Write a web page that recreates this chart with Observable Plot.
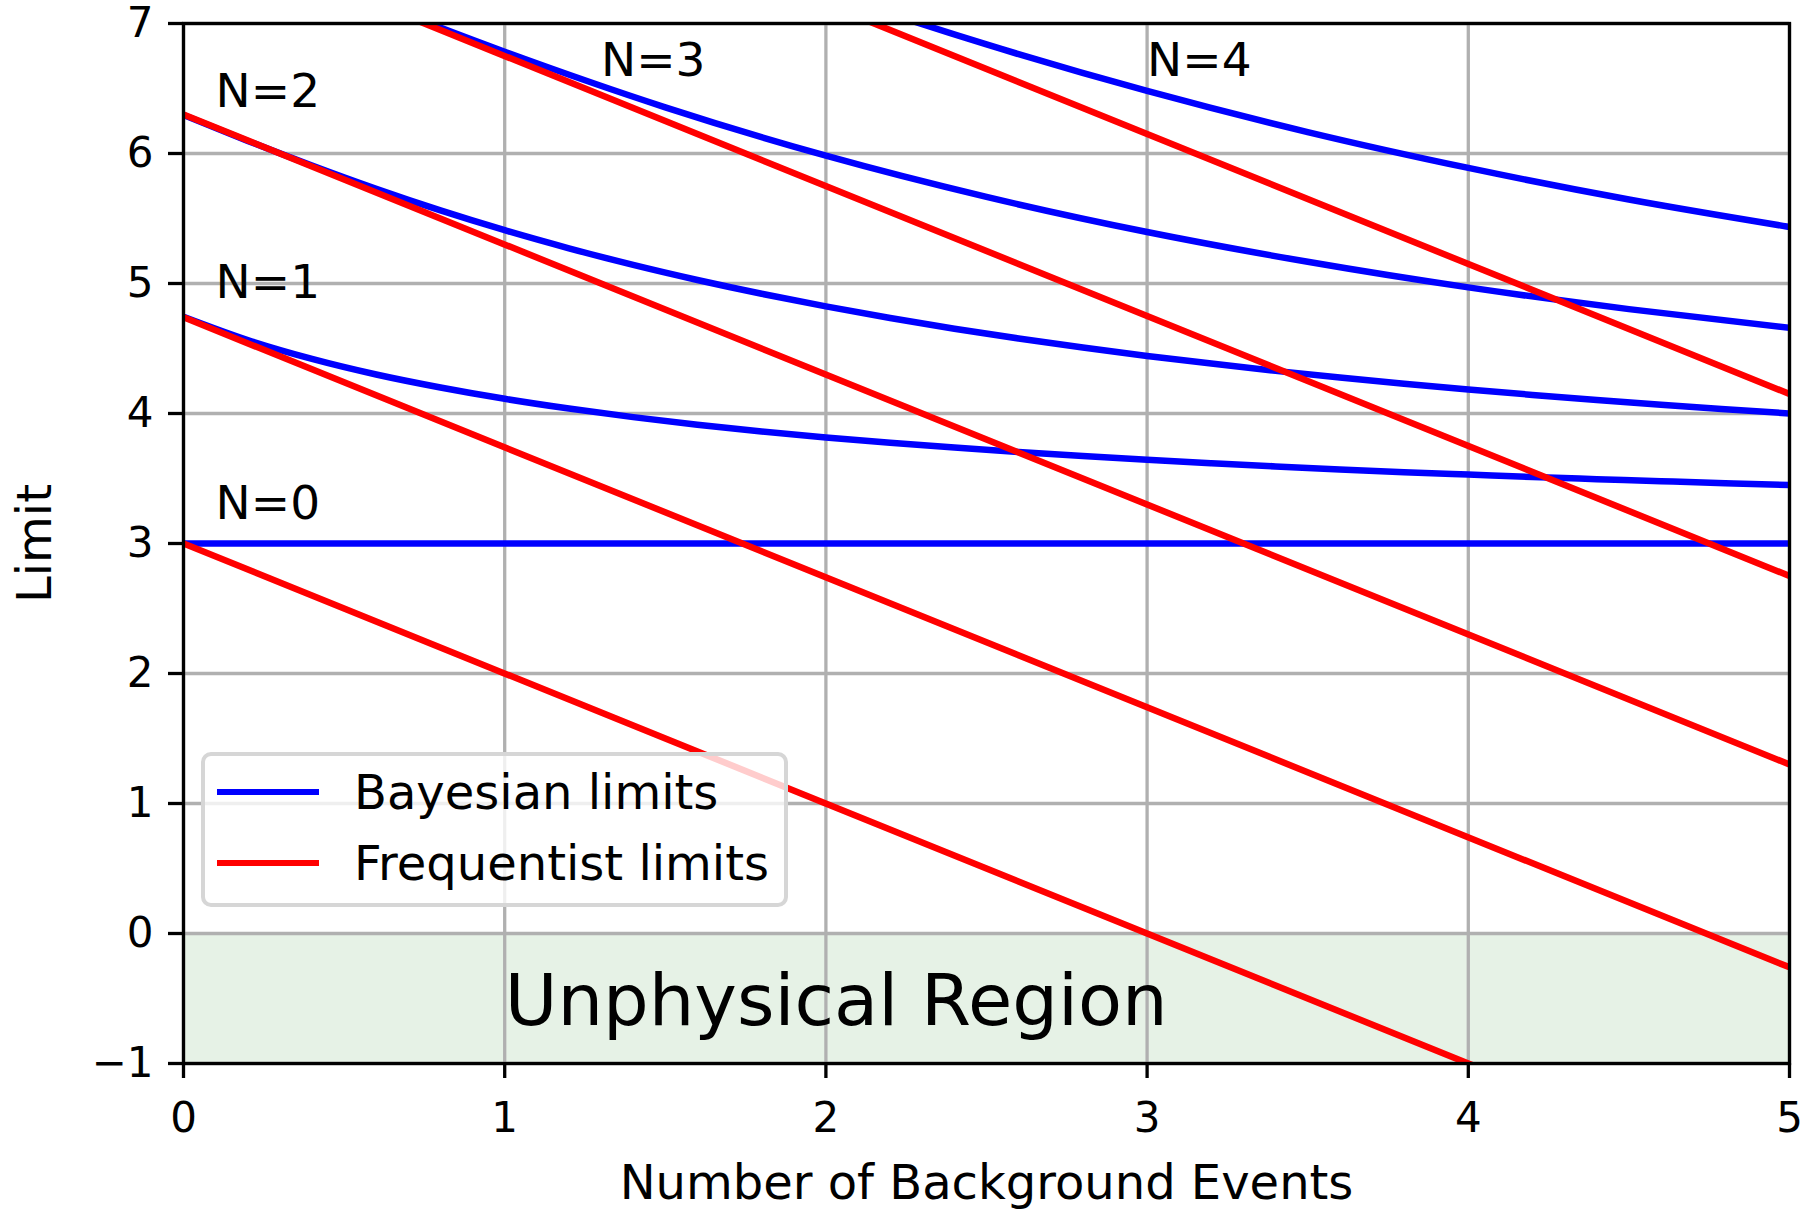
<!DOCTYPE html>
<html>
<head>
<meta charset="utf-8">
<script src="https://cdn.jsdelivr.net/npm/d3@7"></script>
<script src="https://cdn.jsdelivr.net/npm/@observablehq/plot@0.6"></script>
<style>
  html, body { margin: 0; padding: 0; background: #fff; }
  #wrap { position: relative; width: 1819px; height: 1210px; font-family: "DejaVu Sans", sans-serif; }
  #legend {
    position: absolute; left: 201px; top: 752px; width: 587px; height: 155px;
    box-sizing: border-box; border: 4px solid #d6d6d6; border-radius: 10px;
    background: rgba(255,255,255,0.8);
  }
  .lrow { position: absolute; left: 12px; height: 48px; display: flex; align-items: center; }
  .lswatch { width: 102px; height: 6.5px; }
  .ltext { margin-left: 35px; font-size: 48px; line-height: 48px; color: #000; white-space: nowrap; }
</style>
</head>
<body>
<div id="wrap"></div>
<script>
// ---- data ----
const bGridFine = [0, 0.2, 0.4, 0.6, 0.8, 1.0, 1.2, 1.4, 1.6, 1.8, 2.0, 2.2, 2.4, 2.6, 2.8, 3.0, 3.2, 3.4, 3.6, 3.8, 4.0, 4.2, 4.4, 4.6, 4.8, 5.0];
const bGridCoarse = [0, 0.5, 1.0, 1.5, 2.0, 2.5, 3.0, 3.5, 4.0, 4.5, 5.0];

const bayesN0 = [3.0, 3.0];
const bayesN0b = [0, 5];
const bayesN1 = [4.744, 4.565, 4.42, 4.30, 4.20, 4.113, 4.038, 3.972, 3.914, 3.862, 3.816, 3.775, 3.738, 3.704, 3.673, 3.644, 3.618, 3.593, 3.570, 3.549, 3.530, 3.511, 3.495, 3.479, 3.464, 3.45];
const bayesN2 = [6.296, 6.097, 5.907, 5.728, 5.562, 5.41, 5.271, 5.143, 5.027, 4.921, 4.824, 4.735, 4.652, 4.577, 4.507, 4.443, 4.384, 4.328, 4.277, 4.229, 4.185, 4.143, 4.104, 4.067, 4.033, 4.00];
const bayesN3 = [7.754, 7.256, 6.783, 6.355, 5.983, 5.666, 5.396, 5.167, 4.970, 4.803, 4.659];
const bayesN4 = [9.154, 8.653, 8.16, 7.683, 7.241, 6.839, 6.481, 6.165, 5.889, 5.646, 5.435];

const freqB = [0, 5];
const freqAt0 = [3.00, 4.74, 6.30, 7.75, 9.15];
const freqAt5 = [-2.00, -0.26, 1.30, 2.75, 4.15];

const nLabels = ["N=0", "N=1", "N=2", "N=3", "N=4"];
const nLabelB = [0.1, 0.1, 0.1, 1.3, 3.0];
const nLabelLimit = [3.19, 4.89, 6.36, 6.6, 6.6];

const regionText = "Unphysical Region";
const regionB = [0, 5];
const regionLimit = [-1, 0];
const regionTextB = 1.0;
const regionTextLimit = -0.7;

const xTicks = [0, 1, 2, 3, 4, 5];
const yTicks = [-1, 0, 1, 2, 3, 4, 5, 6, 7];
const xLabel = "Number of Background Events";
const yLabel = "Limit";
const legendLabels = ["Bayesian limits", "Frequentist limits"];

// ---- build tables ----
const bayesRows = [];
bayesN0.forEach((v, i) => bayesRows.push({b: bayesN0b[i], limit: v, N: 0}));
bayesN1.forEach((v, i) => bayesRows.push({b: bGridFine[i], limit: v, N: 1}));
bayesN2.forEach((v, i) => bayesRows.push({b: bGridFine[i], limit: v, N: 2}));
bayesN3.forEach((v, i) => bayesRows.push({b: bGridCoarse[i], limit: v, N: 3}));
bayesN4.forEach((v, i) => bayesRows.push({b: bGridCoarse[i], limit: v, N: 4}));

const freqRows = [];
freqAt0.forEach((v, n) => {
  freqRows.push({b: freqB[0], limit: v, N: n});
  freqRows.push({b: freqB[1], limit: freqAt5[n], N: n});
});

const labelRows = nLabels.map((t, i) => ({text: t, b: nLabelB[i], limit: nLabelLimit[i]}));
const region = [{x1: regionB[0], x2: regionB[1], y1: regionLimit[0], y2: regionLimit[1]}];

const font = "DejaVu Sans";
const intFmt = d3.format("d");

const chart = Plot.plot({
  width: 1819,
  height: 1210,
  marginLeft: 183,
  marginRight: 30,
  marginTop: 23,
  marginBottom: 147,
  style: {fontFamily: font, background: "white", color: "black"},
  x: {domain: [0, 5], label: null},
  y: {domain: [-1, 7], label: null},
  marks: [
    Plot.rect(region, {x1: "x1", x2: "x2", y1: "y1", y2: "y2", fill: "rgb(230,242,230)"}),
    Plot.gridX(xTicks, {stroke: "#b0b0b0", strokeOpacity: 1, strokeWidth: 3.3}),
    Plot.gridY(yTicks, {stroke: "#b0b0b0", strokeOpacity: 1, strokeWidth: 3.3}),
    Plot.line(bayesRows, {x: "b", y: "limit", z: "N", stroke: "#0000ff", strokeWidth: 6.5, curve: "monotone-x", clip: true}),
    Plot.line(freqRows, {x: "b", y: "limit", z: "N", stroke: "#ff0000", strokeWidth: 6.5, clip: true}),
    Plot.text(labelRows, {x: "b", y: "limit", text: "text", textAnchor: "start", lineAnchor: "bottom", fontSize: 47, fill: "black"}),
    Plot.text([regionText], {x: regionTextB, y: regionTextLimit, text: d => d, textAnchor: "start", lineAnchor: "bottom", fontSize: 72, fill: "black"}),
    Plot.axisX(xTicks, {tickSize: 15, tickPadding: 24, fontSize: 42, strokeWidth: 3.3, stroke: "black", fill: "black", label: null, tickFormat: intFmt}),
    Plot.axisY(yTicks, {tickSize: 15, tickPadding: 15, fontSize: 42, strokeWidth: 3.3, stroke: "black", fill: "black", label: null, tickFormat: intFmt}),
    Plot.text([xLabel], {frameAnchor: "bottom", dy: 135, textAnchor: "middle", lineAnchor: "bottom", fontSize: 48, fill: "black", text: d => d}),
    Plot.text([yLabel], {frameAnchor: "left", dx: -148, rotate: -90, textAnchor: "middle", lineAnchor: "middle", fontSize: 48, fill: "black", text: d => d}),
    Plot.frame({stroke: "black", strokeWidth: 3.3})
  ]
});

const wrap = document.getElementById("wrap");
wrap.appendChild(chart);

// legend
const legend = document.createElement("div");
legend.id = "legend";
const colors = ["#0000ff", "#ff0000"];
const rowTops = [12, 83];
legendLabels.forEach((lab, i) => {
  const row = document.createElement("div");
  row.className = "lrow";
  row.style.top = rowTops[i] + "px";
  const sw = document.createElement("div");
  sw.className = "lswatch";
  sw.style.background = colors[i];
  const tx = document.createElement("span");
  tx.className = "ltext";
  tx.textContent = lab;
  row.appendChild(sw);
  row.appendChild(tx);
  legend.appendChild(row);
});
wrap.appendChild(legend);
</script>
</body>
</html>
